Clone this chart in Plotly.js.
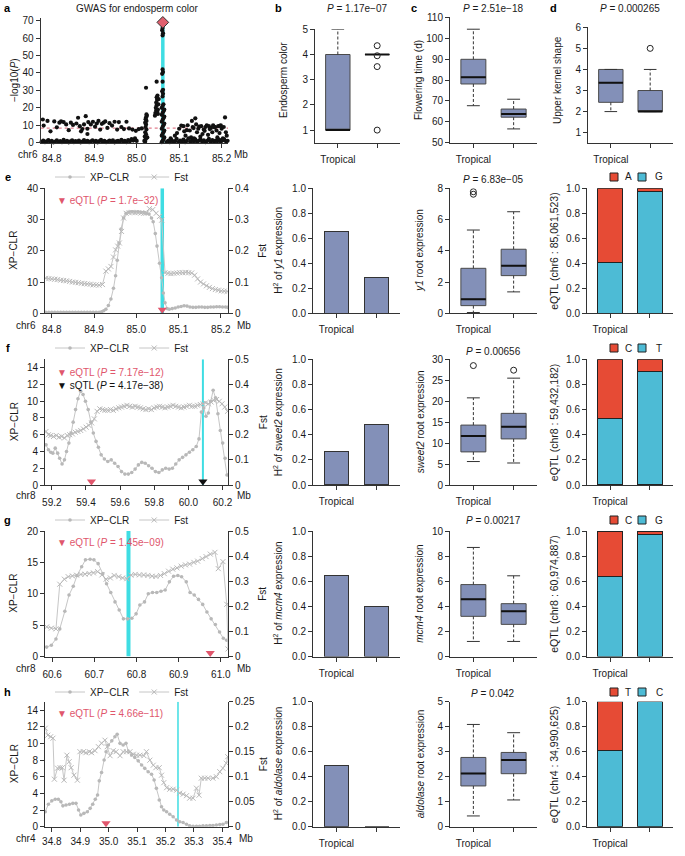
<!DOCTYPE html>
<html><head><meta charset="utf-8">
<script src="https://cdn.plot.ly/plotly-3.0.1.min.js"></script>
<style>html,body{margin:0;padding:0;background:#fff}#chart{width:685px;height:856px}</style>
</head><body><div id="chart"></div>
<script>
// ================= DATA =================
const groupLabels = ['Tropical'];
const groupPositions = [1, 2];

// a: GWAS for endosperm color (position in Mb, -log10 P)
const gwasLeadPos = 85.061523, gwasLeadLogP = 69, gwasThreshold = 8.3;
const gwasPosLeftLow = [84.776,84.780,84.784,84.788,84.792,84.796,84.800,84.804,84.808,84.812,84.816,84.820,84.824,84.828,84.832,84.836,84.840,84.844,84.848,84.852,84.856,84.860,84.864,84.868,84.872,84.876,84.880,84.884,84.888,84.892,84.896,84.900,84.904,84.908,84.912,84.916,84.920,84.924,84.928,84.932,84.936,84.940,84.944,84.948,84.952,84.956,84.960,84.964,84.968,84.972,84.976,84.980,84.984,84.988,84.992,84.996,85.000];
const gwasValLeftLow = [.5,1.2,.3,.8,1.5,.4,1.0,.2,.7,1.3,.4,.9,.3,1.6,.5,1.1,.2,.8,1.4,.3,.9,.5,1.2,.2,.7,1.5,.4,1.0,.3,.8,1.3,.5,1.1,.2,.9,1.6,.4,1.0,.3,.7,1.2,.5,1.4,.2,.8,1.1,.4,1.7,.6,1.0,.3,1.5,.8,2.0,1.2,2.5,1.0];
const gwasPosLeftHigh = [84.779,84.781,84.790,84.797,84.806,84.812,84.818,84.822,84.828,84.834,84.840,84.845,84.850,84.858,84.862,84.866,84.869,84.872,84.876,84.880,84.884,84.884,84.886,84.892,84.897,84.902,84.906,84.910,84.914,84.918,84.922,84.926,84.931,84.936,84.942,84.948,84.954,84.958,84.964,84.970,84.976,84.982,84.990,84.998,85.005,85.012];
const gwasValLeftHigh = [13.3,9.8,12.5,6.5,12.2,8.8,11.5,12.2,11.8,10.5,7.2,11.5,10.2,11.0,14.3,9.5,6.5,7.8,10.5,15.2,5.0,8.0,11.8,10.5,12.0,9.2,11.0,12.5,7.5,10.8,11.5,12.2,8.5,11.2,9.8,12.0,7.5,11.8,9.0,7.8,12.0,8.2,7.5,6.8,7.8,8.2];
const gwasPosPeak1 = [85.018,85.020,85.021,85.019,85.022,85.020,85.023,85.021,85.022,85.020,85.023,85.021,85.022,85.024,85.023,85.022,85.025];
const gwasValPeak1 = [1.0,0.5,2.0,3.5,4.8,6.0,7.5,9.0,10.5,11.5,12.5,13.5,14.5,15.5,16.2,31.5,3.0];
const gwasPosPeak2 = [85.043,85.044,85.046,85.045,85.047,85.046,85.048,85.047,85.049,85.047,85.050,85.050,85.051,85.052,85.048];
const gwasValPeak2 = [15.5,17.0,18.5,20.0,21.5,23.0,24.5,26.0,27.0,35.0,16.5,19.0,22.0,25.0,18.0];
const gwasPosLead = [85.059,85.061,85.063,85.065,85.059,85.061,85.063,85.065,85.059,85.061,85.063,85.065,85.059,85.061,85.063,85.065,85.059,85.061,85.063,85.065,85.059,85.061,85.063,85.061,85.062,85.060,85.062,85.061,85.060,85.062,85.061,85.061,85.062,85.060,85.061];
const gwasValLead = [0.3,1,2,3,4,5,6,7,8,9,10,11,12,13,14,15,16,17,18,19,20,21,22,26.5,28,29.5,30.3,35,39.5,40.5,42,61.5,62.8,64.5,65.8];
const gwasPosRightHigh = [85.080,85.090,85.095,85.100,85.105,85.110,85.112,85.115,85.120,85.125,85.128,85.130,85.132,85.135,85.138,85.140,85.142,85.145,85.150,85.152,85.155,85.158,85.162,85.165,85.168,85.170,85.175,85.178,85.180,85.185,85.188,85.190,85.192,85.195,85.198,85.200,85.203,85.205,85.208,85.210,85.212,85.147,85.172,85.183,85.160,85.196,85.118,85.134];
const gwasValRightHigh = [2.5,4.0,5.5,8.0,9.8,9.5,6.5,4.0,10.0,7.0,3.0,12.5,9.0,2.5,14.0,10.5,6.0,8.0,3.5,9.5,5.0,7.5,9.0,10.0,4.5,9.5,8.5,6.0,10.0,9.0,7.0,3.0,9.5,5.5,10.0,8.0,2.5,9.0,14.5,6.0,4.0,9.2,7.8,8.8,6.8,9.6,7.2,8.4];
const gwasPosRightLow = [85.070,85.074,85.078,85.082,85.086,85.090,85.094,85.098,85.102,85.106,85.110,85.114,85.118,85.122,85.126,85.130,85.134,85.138,85.142,85.146,85.150,85.154,85.158,85.162,85.166,85.170,85.174,85.178,85.182,85.186,85.190,85.194,85.198,85.202,85.206,85.210,85.214];
const gwasValRightLow = [.4,1.0,.3,1.5,.6,.9,2.2,.4,1.2,.7,1.8,.3,1.0,2.5,.5,1.3,.8,1.9,.4,1.1,2.0,.6,1.4,.3,1.0,2.2,.7,1.5,.4,1.2,.9,1.8,.5,1.3,2.0,.8,1.1];

// b-d: phenotype boxplots, each group = [lower whisker, Q1, median, Q3, upper whisker]
const endoStats = [[1,1,1,4,5],[4,4,4,4,4]];
const endoOutGroup = [2,2,2,2], endoOutVal = [4.35,3.95,3.52,1.0];
const flowerStats = [[67.7,78.1,81.3,89.9,104.3],[56.6,62.2,63.7,66.1,70.8]];
const kernelStats = [[2,2.44,3.37,4,4],[2,2,2,3,4]];
const kernelOutGroup = [2], kernelOutVal = [5];
const pLabelsTop = ['1.17e\u221207','2.51e\u221218','0.000265'];

// e: y1
const eXpPos = [84.786,84.793,84.800,84.807,84.814,84.821,84.828,84.835,84.842,84.849,84.856,84.863,84.870,84.877,84.884,84.891,84.898,84.905,84.912,84.918,84.923,84.928,84.934,84.940,84.946,84.951,84.955,84.959,84.964,84.970,84.976,84.983,84.990,84.997,85.004,85.011,85.018,85.024,85.030,85.036,85.040,85.045,85.049,85.055,85.060,85.064,85.068,85.073,85.078,85.085,85.092,85.099,85.106,85.113,85.120,85.127,85.134,85.141,85.148,85.155,85.162,85.169,85.176,85.183,85.190,85.197,85.204,85.211,85.216];
const eXpVal = [0.3,0.3,0.35,0.3,0.3,0.3,0.35,0.3,0.3,0.3,0.3,0.3,0.35,0.3,0.3,0.3,0.3,0.3,0.35,0.5,0.8,1.3,2.5,4.6,8.0,12.0,17.0,22.5,27.0,30.5,32.0,32.4,32.5,32.4,32.5,32.3,32.2,32.0,31.8,30.5,29.3,25.5,21.5,16.0,11.4,6.5,3.4,1.5,1.3,1.5,1.7,2.0,2.2,2.4,2.3,2.0,1.9,1.9,2.0,2.0,1.9,1.9,2.0,2.0,2.1,2.1,2.0,2.0,1.9];
const eFstPos = [84.786,84.793,84.800,84.807,84.814,84.821,84.828,84.835,84.842,84.849,84.856,84.863,84.870,84.877,84.884,84.891,84.898,84.905,84.912,84.920,84.928,84.934,84.940,84.946,84.951,84.956,84.960,84.965,84.970,84.976,84.983,84.990,84.997,85.004,85.011,85.018,85.024,85.031,85.039,85.047,85.055,85.060,85.068,85.075,85.082,85.089,85.096,85.103,85.110,85.117,85.124,85.131,85.138,85.145,85.152,85.159,85.166,85.173,85.180,85.187,85.194,85.201,85.208,85.215];
const eFstVal = [0.112,0.111,0.110,0.109,0.108,0.106,0.105,0.104,0.102,0.100,0.099,0.098,0.096,0.095,0.094,0.093,0.091,0.091,0.090,0.092,0.135,0.142,0.150,0.180,0.203,0.215,0.225,0.262,0.305,0.320,0.322,0.323,0.322,0.322,0.321,0.320,0.321,0.335,0.332,0.320,0.310,0.298,0.130,0.128,0.127,0.128,0.129,0.130,0.130,0.131,0.130,0.129,0.122,0.110,0.100,0.094,0.088,0.083,0.079,0.076,0.074,0.072,0.071,0.070];
const eHighlight = 85.0615, eEqtlPos = [85.061523];
const y1H2 = [0.655,0.285];
const y1Stats = [[0.05,0.49,0.9,2.88,5.33],[1.37,2.41,3.05,4.1,6.5]];
const y1OutGroup = [1,1], y1OutVal = [7.62,7.78];
const y1AlleleG = [0.41,0.975], y1AlleleA = [0.59,0.025];

// f: sweet2
const fXpPos = [59.166,59.180,59.194,59.206,59.220,59.234,59.246,59.260,59.274,59.286,59.300,59.313,59.325,59.339,59.353,59.369,59.383,59.397,59.413,59.429,59.443,59.459,59.473,59.489,59.508,59.528,59.548,59.568,59.588,59.608,59.628,59.648,59.668,59.688,59.707,59.727,59.747,59.767,59.787,59.807,59.827,59.847,59.867,59.887,59.906,59.926,59.946,59.966,59.986,60.006,60.026,60.046,60.062,60.076,60.090,60.103,60.117,60.131,60.145,60.159,60.173,60.187,60.201,60.215,60.226];
const fXpVal = [4.8,4.2,3.9,3.8,4.4,3.8,3.2,2.5,3.0,4.0,5.0,6.2,7.5,9.0,10.3,11.2,10.8,10.0,9.0,7.5,6.2,5.2,4.5,3.6,3.1,2.8,3.0,2.6,2.2,1.6,1.3,1.3,1.5,1.9,2.4,2.7,2.6,2.3,2.0,1.6,1.5,1.8,2.0,1.9,2.0,2.5,3.0,3.3,3.6,3.9,4.2,4.6,5.5,8.7,9.2,8.2,8.6,10.0,11.3,10.4,8.5,6.5,5.0,3.2,1.2];
const fFstPos = [59.166,59.180,59.194,59.210,59.226,59.242,59.258,59.274,59.290,59.305,59.321,59.337,59.353,59.369,59.385,59.401,59.417,59.433,59.449,59.465,59.481,59.497,59.512,59.528,59.544,59.560,59.576,59.592,59.608,59.624,59.640,59.656,59.672,59.688,59.703,59.719,59.735,59.751,59.767,59.783,59.799,59.815,59.831,59.847,59.863,59.879,59.895,59.910,59.926,59.942,59.958,59.974,59.990,60.006,60.022,60.038,60.054,60.070,60.086,60.101,60.117,60.133,60.149,60.165,60.181,60.197,60.213,60.229];
const fFstVal = [0.213,0.200,0.197,0.193,0.197,0.190,0.193,0.187,0.197,0.200,0.203,0.210,0.213,0.217,0.223,0.230,0.237,0.247,0.263,0.293,0.303,0.300,0.297,0.297,0.300,0.297,0.303,0.307,0.310,0.313,0.317,0.313,0.310,0.313,0.310,0.307,0.303,0.300,0.303,0.300,0.307,0.310,0.313,0.310,0.307,0.310,0.313,0.317,0.313,0.310,0.307,0.310,0.313,0.317,0.313,0.313,0.317,0.320,0.323,0.327,0.323,0.330,0.337,0.340,0.333,0.323,0.310,0.293];
const fHighlight = 60.085, fEqtlPos = [59.432182], fSqtlPos = [60.085];
const sweetH2 = [0.263,0.483];
const sweetStats = [[5.6,7.9,11.7,14.3,20.8],[5.25,11.0,13.9,17.1,25.5]];
const sweetOutGroup = [1,2], sweetOutVal = [28.5,27.4];
const sweetAlleleT = [0.528,0.902], sweetAlleleC = [0.472,0.098];

// g: mcm4
const gXpPos = [60.587,60.598,60.609,60.618,60.630,60.640,60.650,60.659,60.670,60.679,60.690,60.699,60.709,60.720,60.729,60.739,60.749,60.759,60.769,60.779,60.789,60.799,60.808,60.819,60.828,60.838,60.848,60.858,60.868,60.878,60.888,60.898,60.907,60.918,60.927,60.937,60.947,60.957,60.967,60.977,60.987,60.997,61.006,61.014];
const gXpVal = [1.5,1.8,2.8,4.4,7.2,9.8,11.2,12.9,14.3,15.4,15.5,15.4,14.8,13.2,11.6,10.2,8.7,7.4,6.0,6.0,6.1,6.8,8.2,8.7,10.0,10.2,10.2,10.4,10.6,11.9,12.8,12.9,12.7,11.9,10.2,9.8,9.1,8.3,7.1,6.0,5.1,3.9,2.9,2.6];
const gFstPos = [60.587,60.598,60.609,60.618,60.629,60.638,60.648,60.658,60.668,60.678,60.688,60.698,60.708,60.718,60.728,60.738,60.747,60.758,60.767,60.777,60.787,60.797,60.807,60.817,60.827,60.837,60.846,60.857,60.866,60.876,60.886,60.896,60.906,60.916,60.926,60.936,60.945,60.956,60.965,60.975,60.986,60.994,61.005,61.014,61.017];
const gFstVal = [0.118,0.113,0.110,0.288,0.308,0.318,0.321,0.324,0.327,0.328,0.330,0.333,0.338,0.325,0.308,0.313,0.323,0.318,0.313,0.310,0.324,0.327,0.325,0.325,0.323,0.320,0.319,0.323,0.330,0.340,0.348,0.353,0.360,0.365,0.368,0.375,0.380,0.390,0.398,0.408,0.415,0.350,0.378,0.208,0.030];
const gHighlight = 60.781, gEqtlPos = [60.974887];
const mcmH2 = [0.643,0.40];
const mcmStats = [[1.2,3.2,4.56,5.73,8.69],[1.2,2.56,3.6,4.21,6.43]];
const mcmAlleleG = [0.64,0.975], mcmAlleleC = [0.36,0.025];

// h: aldolase
const hXpPos = [34.777,34.788,34.800,34.812,34.823,34.832,34.839,34.850,34.862,34.874,34.885,34.894,34.902,34.913,34.925,34.935,34.944,34.953,34.961,34.967,34.975,34.984,34.991,34.999,35.011,35.022,35.030,35.040,35.051,35.061,35.070,35.081,35.092,35.104,35.116,35.127,35.139,35.151,35.160,35.168,35.178,35.186,35.194,35.204,35.215,35.227,35.239,35.250,35.262,35.274,35.285,35.297,35.309,35.320,35.332,35.344,35.356,35.367,35.379,35.391,35.402,35.414];
const hXpVal = [1.8,2.7,3.1,3.3,3.3,3.0,2.5,2.6,2.7,2.8,2.8,2.0,1.4,1.6,1.8,2.2,2.7,3.3,3.8,5.5,6.5,8.0,9.0,9.8,10.3,10.8,11.1,10.0,9.8,10.0,9.0,8.6,8.3,7.9,7.4,7.0,6.6,6.3,5.6,4.6,3.2,2.4,2.0,1.8,1.5,1.2,0.8,0.6,0.5,0.3,0.1,0.05,0.05,0.05,0.1,0.1,0.15,0.15,0.2,0.25,0.3,0.5];
const hFstPos = [34.777,34.786,34.796,34.804,34.809,34.820,34.829,34.837,34.843,34.853,34.861,34.868,34.878,34.890,34.899,34.911,34.920,34.932,34.940,34.952,34.964,34.975,34.987,34.995,35.005,35.016,35.026,35.040,35.051,35.063,35.075,35.087,35.098,35.110,35.124,35.133,35.145,35.157,35.166,35.178,35.186,35.194,35.204,35.215,35.227,35.239,35.250,35.262,35.274,35.285,35.297,35.309,35.318,35.326,35.338,35.350,35.367,35.379,35.391,35.402,35.414,35.419];
const hFstVal = [0.197,0.183,0.180,0.177,0.095,0.117,0.118,0.118,0.093,0.143,0.130,0.118,0.103,0.093,0.150,0.150,0.148,0.150,0.148,0.152,0.160,0.167,0.173,0.160,0.142,0.152,0.150,0.142,0.150,0.150,0.150,0.145,0.143,0.143,0.142,0.150,0.133,0.123,0.118,0.118,0.103,0.088,0.078,0.075,0.075,0.073,0.067,0.065,0.062,0.057,0.057,0.077,0.063,0.097,0.097,0.097,0.097,0.100,0.110,0.117,0.127,0.140];
const hHighlight = 35.244, hEqtlPos = [34.990625];
const aldH2 = [0.49,0];
const aldStats = [[0.43,1.63,2.13,2.77,4.09],[1.07,2.12,2.67,2.97,3.76]];
const aldAlleleC = [0.61,1.0], aldAlleleT = [0.39,0];

// ================= STYLE / LAYOUT =================
const W=685, H=856;
const PX = v => v/W, PY = v => 1 - v/H;
const FONT = 'Liberation Sans, Arial, Helvetica, sans-serif';
const CYAN='#3fdde3', GRAYL='#c6c6c6', GRAYM='#b8b8b8', QRED='#e0566c';
const BOXFILL='#8390b8', BOXEDGE='#4a4a4a', RED='#E64B35', BLUE='#4DBBD5';
const BOXW=0.62, CAPW=0.16, BARW=0.6;
const TXT='#1a1a1a';

const traces=[];
const layout = {width:W, height:H, margin:{l:0,r:0,t:0,b:0}, paper_bgcolor:'#fff', plot_bgcolor:'rgba(0,0,0,0)',
  font:{family:FONT, size:10, color:TXT}, barmode:'stack', boxmode:'overlay', hovermode:false,
  annotations:[], shapes:[], showlegend:true};

const AX = {showline:true, linecolor:'#333', linewidth:1, ticks:'outside', ticklen:4, tickwidth:1, tickcolor:'#333',
  showgrid:false, zeroline:false, tickfont:{size:10, color:TXT, family:FONT}, fixedrange:true, automargin:false};

let axCount=0;
function newAxes(xd, yd, xo, yo){
  axCount++; const s = axCount===1 ? '' : String(axCount);
  layout['xaxis'+s] = Object.assign({}, AX, {domain:[PX(xd[0]),PX(xd[1])], anchor:'y'+s}, xo);
  layout['yaxis'+s] = Object.assign({}, AX, {domain:[PY(yd[1]),PY(yd[0])], anchor:'x'+s}, yo);
  return {x:'x'+s, y:'y'+s};
}
function rightAxis(base, yo){
  axCount++; const s=String(axCount);
  layout['yaxis'+s] = Object.assign({}, AX, {overlaying:base.y, side:'right', anchor:base.x}, yo);
  return 'y'+s;
}
function ann(text, x, y, o){
  layout.annotations.push(Object.assign({text:text, x:PX(x), y:PY(y), xref:'paper', yref:'paper', showarrow:false,
    xanchor:'center', yanchor:'middle', font:{size:10, color:TXT}}, o||{}));
}
function ytitle(text, x, y, sz){ ann(text, x, y, {textangle:-90, font:{size:sz||10, color:TXT}}); }

function boxPanel(ax, stats, outG, outV){
  const xs = stats.map((s,i)=>groupPositions[i]);
  traces.push({type:'box', x:xs, q1:stats.map(s=>s[1]), median:stats.map(s=>s[2]), q3:stats.map(s=>s[3]),
    lowerfence:stats.map(s=>s[1]), upperfence:stats.map(s=>s[3]), width:BOXW, fillcolor:BOXFILL,
    line:{color:BOXEDGE, width:1}, whiskerwidth:0, boxpoints:false, xaxis:ax.x, yaxis:ax.y, showlegend:false, hoverinfo:'skip'});
  const wx=[],wy=[],cx=[],cy=[],mx=[],my=[];
  stats.forEach((s,i)=>{ const x=xs[i];
    wx.push(x,x,null,x,x,null); wy.push(s[3],s[4],null,s[1],s[0],null);
    cx.push(x-CAPW,x+CAPW,null,x-CAPW,x+CAPW,null); cy.push(s[4],s[4],null,s[0],s[0],null);
    mx.push(x-BOXW/2,x+BOXW/2,null); my.push(s[2],s[2],null);
  });
  traces.push({type:'scatter', mode:'lines', x:wx, y:wy, xaxis:ax.x, yaxis:ax.y, line:{color:'#333', width:1, dash:'3px,2px'}, showlegend:false, hoverinfo:'skip'});
  traces.push({type:'scatter', mode:'lines', x:cx, y:cy, xaxis:ax.x, yaxis:ax.y, line:{color:'#333', width:1}, showlegend:false, hoverinfo:'skip'});
  traces.push({type:'scatter', mode:'lines', x:mx, y:my, xaxis:ax.x, yaxis:ax.y, line:{color:'#111', width:2}, showlegend:false, hoverinfo:'skip'});
  if(outG) traces.push({type:'scatter', mode:'markers', x:outG, y:outV, xaxis:ax.x, yaxis:ax.y,
    marker:{symbol:'circle-open', size:6, color:'#222', line:{width:1, color:'#222'}}, showlegend:false, hoverinfo:'skip'});
}
const catX = {range:[0.42,2.58], tickmode:'array', tickvals:[groupPositions[0]], ticktext:groupLabels, ticklabelstandoff:3,
  minor:{tickmode:'array', tickvals:[groupPositions[1]], ticks:'outside', ticklen:4, tickwidth:1, tickcolor:'#333', showgrid:false}};

// ---------- Row a ----------
const axA = newAxes([40.7,228],[18,142.7], {range:[84.774,85.215], tick0:84.8, dtick:0.1, tickformat:'.1f', ticklabelstandoff:2}, {range:[0,71.5], dtick:10});
traces.push({type:'scatter', mode:'lines', x:[gwasLeadPos,gwasLeadPos], y:[0,71.5], xaxis:axA.x, yaxis:axA.y, line:{color:CYAN, width:3.5}, showlegend:false, hoverinfo:'skip'});
const gwasPos = [].concat(gwasPosLeftLow, gwasPosLeftHigh, gwasPosPeak1, gwasPosPeak2, gwasPosLead, gwasPosRightHigh, gwasPosRightLow);
const gwasVal = [].concat(gwasValLeftLow, gwasValLeftHigh, gwasValPeak1, gwasValPeak2, gwasValLead, gwasValRightHigh, gwasValRightLow);
layout.shapes.push({type:'line', xref:'x domain', yref:'y', x0:0, x1:1, y0:gwasThreshold, y1:gwasThreshold, line:{color:'#e07d8c', width:1.3, dash:'dot'}, layer:'below'});
traces.push({type:'scatter', mode:'markers', x:gwasPos, y:gwasVal, xaxis:axA.x, yaxis:axA.y, marker:{size:4.2, color:'#111'}, showlegend:false, hoverinfo:'skip', cliponaxis:false});
traces.push({type:'scatter', mode:'markers', x:[gwasLeadPos], y:[gwasLeadLogP], xaxis:axA.x, yaxis:axA.y, marker:{symbol:'diamond', size:9, color:'#e0606e', line:{color:'#333', width:1}}, showlegend:false, hoverinfo:'skip', cliponaxis:false});
ann('<b>a</b>', 8, 8, {font:{size:11, color:'#000'}});
ann('GWAS for endosperm color', 137, 8);
ytitle('\u2212log10(<i>P</i>)', 14, 80);
ann('chr6', 28, 154); ann('Mb', 241, 154);

const axB = newAxes([315,400],[29.3,142.7], catX, {range:[0.5,5], tickvals:[1,2,3,4,5]});
boxPanel(axB, endoStats, endoOutGroup, endoOutVal);
const axC = newAxes([450,537],[17.3,142.7], catX, {range:[50,110], dtick:10});
boxPanel(axC, flowerStats, null, null);
const axD = newAxes([588,673],[27.3,143.2], catX, {range:[0.5,6], tickvals:[1,2,3,4,5,6]});
boxPanel(axD, kernelStats, kernelOutGroup, kernelOutVal);
ann('<b>b</b>', 278, 8, {font:{size:11, color:'#000'}});
ann('<b>c</b>', 414, 8, {font:{size:11, color:'#000'}});
ann('<b>d</b>', 553, 8, {font:{size:11, color:'#000'}});
ann('<i>P</i> = '+pLabelsTop[0], 357, 8);
ann('<i>P</i> = '+pLabelsTop[1], 493, 8);
ann('<i>P</i> = '+pLabelsTop[2], 630, 8);
ytitle('Endosperm color', 283, 80);
ytitle('Flowering time (d)', 418, 80);
ytitle('Upper kernel shape', 557, 80);

// ---------- rows e-h ----------
let legCount=0;
function geneRow(o){
  const top=o.top, bot=o.bot, mid=(top+bot)/2;
  legCount++; const legId = legCount===1 ? 'legend' : 'legend'+legCount;
  layout[legId] = {orientation:'h', x:PX(50), y:PY(o.legY), xanchor:'left', yanchor:'middle', bgcolor:'rgba(0,0,0,0)',
    font:{size:10, color:TXT}, itemwidth:30, itemclick:false, itemdoubleclick:false, tracegroupgap:0, traceorder:'normal'};
  const ax = newAxes([45,228],[top,bot], {range:o.xr, tick0:o.tick0, dtick:o.dtick, tickformat:'.1f', ticklabelstandoff:o.xso},
    {range:[0,o.lmax], dtick:o.ldt});
  const yr = rightAxis(ax, {range:[0,o.rmax], dtick:o.rdt});
  traces.push({type:'scatter', mode:'lines', x:[o.hl,o.hl], y:[0,o.lmax], xaxis:ax.x, yaxis:ax.y, line:{color:CYAN, width:o.hlw}, showlegend:false, hoverinfo:'skip'});
  traces.push({type:'scatter', mode:'lines+markers', name:'XP\u2212CLR', x:o.xpPos, y:o.xpVal, xaxis:ax.x, yaxis:ax.y,
    line:{color:GRAYL, width:1}, marker:{symbol:'circle', size:3.6, color:GRAYM}, legend:legId, legendrank:1, showlegend:true, hoverinfo:'skip'});
  traces.push({type:'scatter', mode:'lines+markers', name:'Fst', x:o.fstPos, y:o.fstVal, xaxis:ax.x, yaxis:yr,
    line:{color:GRAYL, width:1}, marker:{symbol:'x-thin', size:5, color:GRAYM, line:{color:GRAYM, width:1}}, legend:legId, legendrank:2, showlegend:true, hoverinfo:'skip'});
  traces.push({type:'scatter', mode:'markers', x:o.eqtl, y:o.eqtl.map(()=>o.lmax*0.028), xaxis:ax.x, yaxis:ax.y,
    marker:{symbol:'triangle-down', size:8, color:QRED}, showlegend:false, hoverinfo:'skip', cliponaxis:false});
  if(o.sqtl) traces.push({type:'scatter', mode:'markers', x:o.sqtl, y:o.sqtl.map(()=>o.lmax*0.028), xaxis:ax.x, yaxis:ax.y,
    marker:{symbol:'triangle-down', size:8, color:'#111'}, showlegend:false, hoverinfo:'skip', cliponaxis:false});
  ann('<b>'+o.letter+'</b>', 8, o.legY, {font:{size:11, color:'#000'}});
  ytitle('XP\u2212CLR', 14, mid);
  ytitle('Fst', 263, mid);
  ann(o.chr, 26, bot+o.chrDy); ann('Mb', o.mbX, bot+o.chrDy);
  o.qtlText.forEach(q=>ann(q[0], 55, q[1], {xanchor:'left', font:{size:10, color:q[2]}}));

  // column 2: H2 bars
  const ax2 = newAxes([313,400],[top,bot], catX, {range:[0,1], dtick:0.2, tickformat:'.1f'});
  traces.push({type:'bar', x:groupPositions, y:o.h2, width:BARW, xaxis:ax2.x, yaxis:ax2.y, marker:{color:BOXFILL, line:{color:'#333', width:1}}, showlegend:false, hoverinfo:'skip'});
  ytitle('H<sup>2</sup> of <i>'+o.gene+'</i> expression', 278, mid);

  // column 3: expression box
  const ax3 = newAxes([450,537],[top,bot], catX, {range:[0,o.emax], dtick:o.edt});
  boxPanel(ax3, o.stats, o.outG, o.outV);
  ytitle('<i>'+o.gene+'</i> root expression', 420, mid);
  ann('<i>P</i> = '+o.pval, 493, o.pY);

  // column 4: allele frequencies
  const ax4 = newAxes([587,673],[top,bot], catX, {range:[0,1], dtick:0.2, tickformat:'.1f'});
  traces.push({type:'bar', x:groupPositions, y:o.lowAllele, width:BOXW, xaxis:ax4.x, yaxis:ax4.y, marker:{color:BLUE, line:{color:'#222', width:1}}, showlegend:false, hoverinfo:'skip'});
  traces.push({type:'bar', x:groupPositions, y:o.highAllele, width:BOXW, xaxis:ax4.x, yaxis:ax4.y, marker:{color:RED, line:{color:'#222', width:1}}, showlegend:false, hoverinfo:'skip'});
  ytitle(o.eqtlTitle, 554, mid, 10.5);
  // allele key
  const ly=o.legY;
  layout.shapes.push({type:'rect', xref:'paper', yref:'paper', x0:PX(610), x1:PX(618), y0:PY(ly+4), y1:PY(ly-4), fillcolor:RED, line:{color:'#222', width:1}});
  layout.shapes.push({type:'rect', xref:'paper', yref:'paper', x0:PX(638), x1:PX(646), y0:PY(ly+4), y1:PY(ly-4), fillcolor:BLUE, line:{color:'#222', width:1}});
  ann(o.alleles[0], 628, ly); ann(o.alleles[1], 659, ly);
}

geneRow({letter:'e', top:188.3, bot:313.3, legY:177, xr:[84.784,85.217], tick0:84.8, dtick:0.1, xso:3,
  lmax:40, ldt:10, rmax:0.4, rdt:0.1, hl:eHighlight, hlw:3.5, xpPos:eXpPos, xpVal:eXpVal, fstPos:eFstPos, fstVal:eFstVal,
  eqtl:eEqtlPos, chr:'chr6', chrDy:12, mbX:244, qtlText:[['\u25BC eQTL (<i>P</i> = 1.7e\u221232)', 200, QRED]],
  h2:y1H2, gene:'y1', stats:y1Stats, outG:y1OutGroup, outV:y1OutVal, emax:8, edt:2, pval:'6.83e\u221205', pY:180,
  lowAllele:y1AlleleG, highAllele:y1AlleleA, alleles:['A','G'], eqtlTitle:'eQTL (chr6 : 85,061,523)'});

geneRow({letter:'f', top:359.3, bot:485, legY:348, xr:[59.16,60.232], tick0:59.2, dtick:0.2, xso:4,
  lmax:15, ldt:2, rmax:0.5, rdt:0.1, hl:fHighlight, hlw:2, xpPos:fXpPos, xpVal:fXpVal, fstPos:fFstPos, fstVal:fFstVal,
  eqtl:fEqtlPos, sqtl:fSqtlPos, chr:'chr8', chrDy:11, mbX:244, qtlText:[['\u25BC eQTL (<i>P</i> = 7.17e\u221212)', 372, QRED],['\u25BC sQTL (<i>P</i> = 4.17e\u221238)', 385, '#111']],
  h2:sweetH2, gene:'sweet2', stats:sweetStats, outG:sweetOutGroup, outV:sweetOutVal, emax:30, edt:5, pval:'0.00656', pY:351,
  lowAllele:sweetAlleleT, highAllele:sweetAlleleC, alleles:['C','T'], eqtlTitle:'eQTL (chr8 : 59,432,182)'});

geneRow({letter:'g', top:531, bot:656.5, legY:520, xr:[60.583,61.017], tick0:60.6, dtick:0.1, xso:4,
  lmax:20, ldt:5, rmax:0.5, rdt:0.1, hl:gHighlight, hlw:4, xpPos:gXpPos, xpVal:gXpVal, fstPos:gFstPos, fstVal:gFstVal,
  eqtl:gEqtlPos, chr:'chr8', chrDy:12, mbX:244, qtlText:[['\u25BC eQTL (<i>P</i> = 1.45e\u221209)', 542, QRED]],
  h2:mcmH2, gene:'mcm4', stats:mcmStats, outG:null, outV:null, emax:10, edt:2, pval:'0.00217', pY:520,
  lowAllele:mcmAlleleG, highAllele:mcmAlleleC, alleles:['C','G'], eqtlTitle:'eQTL (chr8 : 60,974,887)'});

geneRow({letter:'h', top:701.7, bot:826.7, legY:692, xr:[34.776,35.42], tick0:34.8, dtick:0.1, xso:1,
  lmax:15, ldt:2, rmax:0.25, rdt:0.05, hl:hHighlight, hlw:1.5, xpPos:hXpPos, xpVal:hXpVal, fstPos:hFstPos, fstVal:hFstVal,
  eqtl:hEqtlPos, chr:'chr4', chrDy:12, mbX:246, qtlText:[['\u25BC eQTL (<i>P</i> = 4.66e\u221211)', 713, QRED]],
  h2:aldH2, gene:'aldolase', stats:aldStats, outG:null, outV:null, emax:5, edt:1, pval:'0.042', pY:693,
  lowAllele:aldAlleleC, highAllele:aldAlleleT, alleles:['T','C'], eqtlTitle:'eQTL (chr4 : 34,990,625)'});

Plotly.newPlot('chart', traces, layout, {displayModeBar:false, staticPlot:true});
</script>
</body></html>
